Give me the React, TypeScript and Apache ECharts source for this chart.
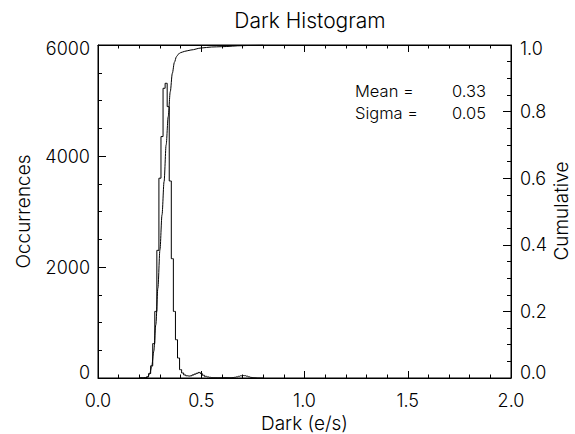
import React, { useEffect, useRef } from "react";
import * as echarts from "echarts";

// Histogram bins (centre of first bin, bin width, counts per bin)
const binFirstCentre = 0.2;
const binWidth = 0.01;
const counts = [
  0, 0, 0, 0, 20, 80, 220, 620, 1200, 2300, 3600, 4350, 5220, 5310, 4890, 3550,
  2150, 1200, 690, 360, 150, 90, 55, 40, 35, 40, 55, 70, 85, 100, 80, 50, 30, 20,
  12, 8, 7, 6, 5, 5, 5, 5, 5, 5, 5, 8, 12, 20, 30, 40, 45, 42, 32, 20, 10, 5, 3,
  0, 0, 0, 0,
];

// Cumulative curve
const cumX = [
  0.2, 0.22, 0.23, 0.24, 0.25, 0.26, 0.27, 0.28, 0.29, 0.3, 0.31, 0.32, 0.33,
  0.34, 0.35, 0.36, 0.37, 0.38, 0.39, 0.4, 0.42, 0.45, 0.5, 0.55, 0.6, 0.7,
  0.75, 0.8,
];
const cumY = [
  0, 0.0005, 0.001, 0.003, 0.012, 0.034, 0.08, 0.16, 0.27, 0.385, 0.49, 0.59,
  0.7, 0.785, 0.86, 0.915, 0.948, 0.965, 0.973, 0.977, 0.981, 0.985, 0.991,
  0.994, 0.995, 0.998, 0.999, 1.0,
];

const meanValue = "0.33";
const sigmaValue = "0.05";

const FONT = "Inter";
const FW = 300;

export default function App() {
  const ref = useRef<HTMLDivElement>(null);
  useEffect(() => {
    if (!ref.current) return;
    const chart = echarts.init(ref.current, null, { renderer: "svg" });
    const histData = counts.map((c, i) => [
      +(binFirstCentre + i * binWidth).toFixed(3),
      c,
    ]);
    const cumData = cumX.map((x, i) => [x, cumY[i]]);
    const labelBase = (size = 18) => ({
      color: "#000",
      fontFamily: FONT,
      fontWeight: FW,
      fontSize: size,
    });
    const rich = () => ({
      t: { ...labelBase(), padding: [6, 0, 0, 0] },
      b: { ...labelBase(), padding: [0, 0, 12, 0] },
    });
    const axisLine = () => ({ show: true, onZero: false, lineStyle: { color: "#000", width: 1 } });
    const tickX = () => ({ show: true, inside: true, length: 7, lineStyle: { color: "#000", width: 1 } });
    const minorX = () => ({ show: true, splitNumber: 5, length: 3.5, lineStyle: { color: "#000", width: 1 } });
    const tickY = () => ({ show: true, inside: true, length: 8, lineStyle: { color: "#000", width: 1 } });
    const minorY = () => ({ show: true, splitNumber: 4, length: 4, lineStyle: { color: "#000", width: 1 } });
    const statFont = `${FW} 16.5px ${FONT}`;
    chart.setOption({
      animation: false,
      backgroundColor: "#fff",
      title: {
        text: "Dark Histogram",
        left: 305,
        top: 5,
        textAlign: "center",
        textStyle: labelBase(21),
      },
      grid: {
        left: 98,
        top: 45,
        width: 413,
        height: 333,
        containLabel: false,
        outerBoundsMode: "none",
        show: true,
        borderColor: "#000",
        borderWidth: 1,
        backgroundColor: "transparent",
      },
      xAxis: [
        {
          type: "value",
          min: 0,
          max: 2,
          interval: 0.5,
          position: "bottom",
          name: "Dark (e/s)",
          nameLocation: "middle",
          nameGap: 33,
          nameTextStyle: labelBase(19),
          axisLine: axisLine(),
          axisTick: tickX(),
          minorTick: minorX(),
          axisLabel: {
            ...labelBase(),
            margin: 13,
            formatter: (v: number) => v.toFixed(1),
          },
          splitLine: { show: false },
        },
        {
          type: "value",
          min: 0,
          max: 2,
          interval: 0.5,
          position: "top",
          axisLine: axisLine(),
          axisTick: tickX(),
          minorTick: minorX(),
          axisLabel: { show: false },
          splitLine: { show: false },
        },
      ],
      yAxis: [
        {
          type: "value",
          min: 0,
          max: 6000,
          interval: 2000,
          position: "left",
          name: "Occurrences",
          nameLocation: "middle",
          nameRotate: 90,
          nameGap: 65,
          nameTextStyle: labelBase(19),
          axisLine: axisLine(),
          axisTick: tickY(),
          minorTick: minorY(),
          axisLabel: {
            ...labelBase(),
            margin: 8,
            rich: rich(),
            formatter: (v: number) =>
              v === 6000 ? "{t|6000}" : v === 0 ? "{b|0}" : String(v),
          },
          splitLine: { show: false },
        },
        {
          type: "value",
          min: 0,
          max: 1,
          interval: 0.2,
          position: "right",
          axisLine: axisLine(),
          axisTick: tickY(),
          minorTick: minorY(),
          axisLabel: {
            ...labelBase(),
            margin: 9,
            rich: rich(),
            formatter: (v: number) =>
              v === 1 ? "{t|1.0}" : v === 0 ? "{b|0.0}" : v.toFixed(1),
          },
          splitLine: { show: false },
        },
      ],
      graphic: [
        {
          type: "text",
          x: 561,
          y: 211,
          rotation: Math.PI / 2,
          style: {
            text: "Cumulative",
            fill: "#000",
            font: `${FW} 19px ${FONT}`,
            align: "center",
            verticalAlign: "middle",
          },
        },
        {
          type: "text",
          left: 355,
          top: 82,
          style: { text: "Mean =", fill: "#000", font: statFont },
        },
        {
          type: "text",
          right: 575 - 486,
          top: 82,
          style: { text: meanValue, fill: "#000", font: statFont, align: "right" },
        },
        {
          type: "text",
          left: 355,
          top: 104,
          style: { text: "Sigma =", fill: "#000", font: statFont },
        },
        {
          type: "text",
          right: 575 - 486,
          top: 104,
          style: { text: sigmaValue, fill: "#000", font: statFont, align: "right" },
        },
      ],
      series: [
        {
          type: "line",
          xAxisIndex: 0,
          yAxisIndex: 0,
          data: histData,
          step: "middle",
          symbol: "none",
          lineStyle: { color: "#000", width: 1 },
        },
        {
          type: "line",
          xAxisIndex: 0,
          yAxisIndex: 1,
          data: cumData,
          smooth: 0.3,
          smoothMonotone: "x",
          symbol: "none",
          lineStyle: { color: "#000", width: 1 },
        },
      ],
    });
    return () => chart.dispose();
  }, []);
  return (
    <div
      ref={ref}
      style={{ position: "fixed", left: 0, top: 0, width: 575, height: 434, background: "#fff" }}
    />
  );
}
